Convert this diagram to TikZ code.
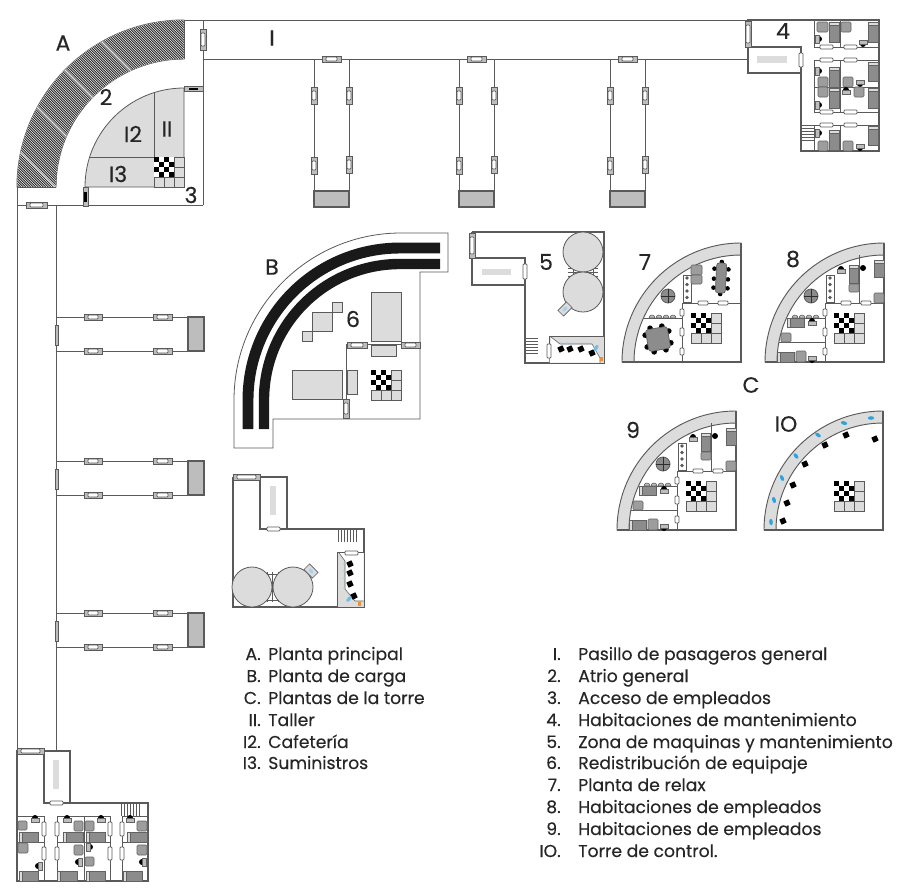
\documentclass[tikz,border=0pt]{standalone}
\usepackage{fontspec}
\setmainfont{Poppins}
\newfontfamily\legendfont{Poppins}[FakeBold=0.3]
\definecolor{wall}{HTML}{5A5A5A}
\definecolor{lite}{HTML}{DCDCDC}
\definecolor{mid}{HTML}{BDBDBD}
\definecolor{furn}{HTML}{8C8C8C}
\definecolor{blu}{HTML}{2FA4DC}
\definecolor{lblu}{HTML}{9CD3EE}
\definecolor{ora}{HTML}{E8913A}
\tikzset{
  wallline/.style={draw=wall,line width=0.75pt},
  roomgray/.style={draw=wall,fill=lite,line width=0.6pt},
  lbl/.style={font=\legendfont\fontsize{16.5}{18}\selectfont,text=black!85,inner sep=0pt},
  item/.style={font=\legendfont\fontsize{12.9}{15}\selectfont,text=black!85,anchor=base west,inner sep=0pt},
  num/.style={font=\legendfont\fontsize{12.9}{15}\selectfont,text=black!85,anchor=base east,inner sep=0pt},
  doorw/.style={draw=wall,fill=white,line width=0.5pt,rounded corners=0.6pt},
  doorg/.style={draw=wall,fill=mid,line width=0.5pt},
  bedf/.style={draw=furn!70!black,fill=furn,line width=0.4pt},
  chairf/.style={draw=furn!70!black,fill=furn!85!white,line width=0.4pt,rounded corners=1pt},
}
\newcommand{\doorh}[3]{\path[doorw] (#1,#3-2) rectangle (#2,#3+2);}
\newcommand{\doorv}[3]{\path[doorw] (#1-2,#2) rectangle (#1+2,#3);}
\newcommand{\sdh}[3]{\path[doorg] (#1,#3-3) rectangle (#2,#3+3);\path[doorw] (#1+4,#3-2) rectangle (#2-4,#3+2);}
\newcommand{\sdv}[3]{\path[doorg] (#1-3,#2) rectangle (#1+3,#3);\path[doorw] (#1-2,#2+4) rectangle (#1+2,#3-4);}
\newcommand{\bedl}[4]{\path[bedf] (#1,#2) rectangle (#3,#4);\path[draw=furn!70!black,fill=lite,line width=0.3pt] (#1,#2) rectangle (#1+3,#4);}
\newcommand{\bedt}[4]{\path[bedf] (#1,#2) rectangle (#3,#4);\path[draw=furn!70!black,fill=lite,line width=0.3pt] (#1,#2) rectangle (#3,#2+3);}
\newcommand{\chairx}[4]{\path[chairf] (#1,#2) rectangle (#3,#4);}
\newcommand{\deskx}[3]{\begin{scope}[shift={(#1,#2)},rotate=#3]
  \fill[black] (0,1) circle (3);
  \path[draw=furn!70!black,fill=mid,line width=0.3pt] (-4,-3) rectangle (4,1);
\end{scope}}
\newcommand{\chk}[2]{\begin{scope}[shift={(#1,#2)}]
  \path[draw=wall,fill=lite,line width=0.5pt] (0,0) rectangle (30,30);
  \draw[wall,line width=0.5pt] (20,0) -- (20,30) (0,20) -- (30,20) (20,10) -- (30,10) (10,20) -- (10,30);
  \fill[white] (0,0) rectangle (20,20);
  \foreach \i/\j in {0/0,10/0,5/5,15/5,0/10,10/10,5/15,15/15} \fill[black] (\i,\j) rectangle +(5,5);
\end{scope}}
\newcommand{\fingerv}[2]{%
  \draw[wallline] (#1,59) -- (#1,191) (#2,59) -- (#2,191);
  \path[draw=wall,fill=mid,line width=0.8pt] (#1,191) rectangle (#2,207);
  \sdh{#1+8}{#2-8}{59}
  \sdv{#1}{87}{104}\sdv{#1}{157}{174}\sdv{#2}{87}{104}\sdv{#2}{156}{173}}
\newcommand{\fingerh}[2]{%
  \draw[wallline] (56,#1) -- (188,#1) (56,#2) -- (188,#2);
  \path[draw=wall,fill=mid,line width=0.8pt] (188,#1) rectangle (204,#2);
  \path[doorg] (55,#1+8) rectangle (58,#2-6);
  \sdh{84}{102}{#1}\sdh{153}{172}{#1}\sdh{84}{102}{#2}\sdh{153}{172}{#2}}
\newcommand{\towerband}{%
  \path[draw=wall,fill=lite,line width=0.7pt] (-119,0) arc (180:270:119) -- (0,-107) arc (270:180:107) -- cycle;
  \draw[wall,line width=0.8pt] (-119,0) -- (0,0) -- (0,-119);}
\newcommand{\towerroom}{%
  \draw[wall,line width=0.7pt] (-59,0) -- (-59,-59) -- (0,-59);
  \doorh{-43}{-33}{-59}\doorh{-23}{-13}{-59}
  \doorv{-59}{-53}{-46}\doorv{-59}{-34}{-26}\doorv{-59}{-14}{-7}
  \chk{-50}{-49}
  \path[draw=wall,fill=white,line width=0.4pt] (-58,-87) rectangle (-50,-60);
  \foreach \k in {-84,-77.5,-71,-64.5}{\fill[wall] (-54,\k) circle (1.8);}
  \path[draw=wall,fill=furn,line width=0.6pt] (-73,-66) circle (7);
  \draw[wall!50!black,line width=0.7pt] (-80,-66) -- (-66,-66) (-73,-73) -- (-73,-59);
  \foreach \k in {-89,-82,-75,-68}{\path[draw=wall,fill=mid,line width=0.4pt] (\k-3,-44) arc (180:360:3) -- cycle;}
}
\newcommand{\towerstaff}{%
  \draw[wall,line width=0.6pt] (-25,-107) -- (-25,-59) (-97,-44) -- (-59,-44) (-105,-20) -- (-59,-20);
  \deskx{-43}{-92}{180}
  \bedt{-35}{-97}{-26}{-79}\chairx{-35}{-78}{-25}{-70}
  \fill[black] (-21,-94) circle (3);
  \bedt{-10}{-102}{0}{-85}\chairx{-10}{-69}{0}{-59}
  \bedl{-97}{-44}{-80}{-35}\deskx{-72}{-40}{180}
  \chairx{-103}{-29}{-93}{-20}
  \bedl{-107}{-10}{-90}{0}\chairx{-88}{-11}{-78}{0}\deskx{-72}{-3}{0}}
\newcommand{\blk}[2]{\fill[black,rotate around={25:(#1,#2)}] (#1-2.8,#2-2.8) rectangle (#1+2.8,#2+2.8);}
\begin{document}
\begin{tikzpicture}[x=0.75pt,y=-0.75pt]
\useasboundingbox[fill=white] (0,0) rectangle (900,893);

%% ---------- Main floor A
\path[draw=wall,line width=0.7pt,fill=black!85] (17,187) arc (180:270:167) -- (184,59) arc (270:180:128) -- cycle;
\begin{scope}
  \clip (17,187) arc (180:270:167) -- (184,59) arc (270:180:128) -- cycle;
  \foreach \d in {-220,-217.5,...,190}{\draw[white,line width=0.32pt] (\d,0) -- ++(220,220);}
  \foreach \d in {-132,-70,-5,60}{\draw[white,line width=1.1pt,opacity=.6] (\d,0) -- ++(220,220);}
\end{scope}
\draw[wallline] (184,20) -- (747,20) (203,20) -- (203,205) (203,59) -- (747,59)
  (184,20) -- (184,59) (17,187) -- (17,750) (56,205) -- (56,750) (17,205) -- (203,205) (17,187) -- (56,187);
\sdv{203}{29}{50}\sdh{26}{47}{205}
% inner rooms
\path[roomgray] (85,187) arc (180:270:99) -- (184,187) -- cycle;
\draw[wall,line width=0.6pt] (154,92) -- (154,187) (90,157) -- (184,157);
\chk{154}{157}
\path[doorg] (184,86) rectangle (203,91);\fill[black] (189,87.5) rectangle (198,89.5);
\path[doorg] (83,187) rectangle (88,206);\fill[black] (84.3,192) rectangle (86.7,202);
\node[lbl] (labA) at (63,43) {A};
\node[lbl] (lab2) at (106,97) {2};
\node[lbl] (lab12) at (133,134) {I2};
\node[lbl] (lab11) at (167,129) {II};
\node[lbl] (lab13) at (118,174) {I3};
\node[lbl] (lab3) at (191,195) {3};
\node[lbl] (lab1) at (272,38) {I};
%% fingers
\fingerv{314}{349}\fingerv{459}{494}\fingerv{610}{645}
\fingerh{317}{351}\fingerh{461}{495}\fingerh{613}{647}

%% ---------- Room 4 (top right)
\draw[wall,line width=0.8pt] (747,20) -- (879,20) -- (879,151) -- (801,151) -- (801,73) -- (748,73) -- (748,47) -- (801,47) -- (801,73);
\draw[wall,line width=0.8pt] (748,47) -- (748,20);
\sdv{748}{21}{47}
\fill[lite] (757,56) rectangle (787,63);
\doorv{801}{53}{67}
\draw[wall,line width=0.7pt] (814,20) -- (814,47) -- (879,47) (814,60) -- (879,60) (814,60) -- (814,112) -- (879,112) (814,125) -- (879,125) (814,125) -- (814,151)
 (840,20) -- (840,47) (840,60) -- (840,112) (840,125) -- (840,151) (814,87) -- (879,87);
\foreach \y in {47,60,112,125}{\doorh{820}{833}{\y}\doorh{844}{857}{\y}}
\foreach \y in {125,128,...,141}{\draw[wall,line width=0.5pt] (801,\y) -- (814,\y);}
\chairx{817}{22}{828}{32}\bedt{829}{22}{839}{42}\chairx{841}{22}{851}{32}\bedt{868}{22}{878}{42}
\deskx{818}{39}{90}\deskx{863}{43}{0}
\deskx{818}{71}{90}\bedt{829}{67}{839}{87}\chairx{818}{77}{828}{87}\chairx{843}{77}{853}{87}\deskx{860}{83}{0}\bedt{868}{62}{878}{81}
\chairx{818}{87}{828}{97}\bedt{829}{88}{839}{108}\deskx{846}{91}{180}\chairx{854}{87}{864}{97}\bedt{868}{88}{878}{108}\deskx{818}{105}{90}
\deskx{818}{133}{90}\bedt{829}{130}{839}{150}\chairx{818}{141}{828}{151}\chairx{843}{141}{853}{151}\deskx{860}{147}{0}\bedt{868}{126}{878}{145}
\node[lbl] (lab4) at (783,31) {4};

%% ---------- Room bottom left
\draw[wall,line width=0.8pt] (17,750) -- (17,881) -- (148,881) -- (148,803) -- (70,803) -- (70,751) -- (44,751) -- (44,803) -- (70,803);
\sdh{17}{44}{751}
\fill[lite] (53,760) rectangle (59,789);
\doorh{50}{63}{803}
\draw[wall,line width=0.7pt] (17,816) -- (44,816) -- (44,881) (57,881) -- (57,816) -- (110,816) -- (110,881) (122,881) -- (122,816) -- (148,816)
 (17,842) -- (44,842) (57,842) -- (110,842) (122,842) -- (148,842) (84,816) -- (84,881);
\foreach \x in {44,57,110,122}{\doorv{\x}{822}{836}\doorv{\x}{847}{860}}
\foreach \x in {121,124,...,139}{\draw[wall,line width=0.5pt] (\x,803) -- (\x,816);}
\deskx{35}{819}{180}\chairx{18}{821}{27}{830}\bedl{19}{832}{38}{842}\chairx{18}{843}{28}{853}\deskx{39}{866}{-90}\bedl{19}{871}{38}{881}
\deskx{67}{819}{180}\chairx{74}{821}{83}{831}\bedl{63}{832}{83}{842}\chairx{74}{845}{83}{855}\deskx{79}{862}{-90}\bedl{57}{871}{77}{881}
\deskx{101}{819}{180}\chairx{85}{821}{94}{831}\bedl{86}{832}{105}{842}\deskx{89}{847}{90}\chairx{85}{857}{94}{866}\bedl{86}{871}{105}{881}
\deskx{130}{819}{180}\chairx{137}{821}{147}{831}\bedl{127}{832}{147}{842}\chairx{137}{845}{147}{855}\deskx{143}{862}{-90}\bedl{123}{871}{142}{881}

%% ---------- Plant B / 6
\draw[wall,line width=0.6pt] (273,419) -- (273,448) -- (234,448) -- (234,400) arc (180:270:167) -- (448,233) -- (448,272) -- (420,272) -- (420,419) -- cycle;
\draw[black!90,line width=8.2pt] (248,429) -- (248,400) arc (180:270:152) -- (440,248);
\draw[black!90,line width=7.8pt] (264,429) -- (264,400) arc (180:270:136) -- (440,264);
\draw[wall,line width=0.7pt] (346,419) -- (346,344) -- (420,344);
\foreach \a/\b/\c/\d in {371/292/401/341,371/345/396/356,292/370/342/399,347/370/357/394,332/302/342/312,312/312/332/331,302/331/312/341}
  {\path[roomgray] (\a,\b) rectangle (\c,\d);}
\sdh{347}{367}{345}\sdh{401}{420}{345}\sdv{346}{399}{418}
\chk{371}{370}
\node[lbl] (labB) at (272,267) {B};
\node[lbl] (lab6) at (353,319) {6};

%% ---------- Machine room 5
\draw[wall,line width=0.8pt] (472,232) -- (604,232) -- (604,363) -- (525,363) -- (525,258) -- (472,258) -- (472,232) (472,258) -- (472,285) -- (525,285);
\sdv{472}{233}{258}
\fill[lite] (482,269) rectangle (511,275);
\doorv{525}{264}{279}
\draw[wall,line width=0.5pt] (568,268) -- (598,268) (568,272) -- (598,272) (568,276) -- (598,276) (573,265) -- (573,279) (593,265) -- (593,279);
\path[roomgray] (583,252) circle (20);
\path[roomgray] (583,292) circle (20);
\begin{scope}[rotate around={45:(565,309)}]
\path[draw=wall,fill=lite,line width=0.5pt] (559,305) rectangle (571,313);
\fill[lblu] (565,309) ellipse (3 and 1.6);
\end{scope}
\foreach \y in {338,341,...,353}{\draw[wall,line width=0.5pt] (525,\y) -- (538,\y);}
\path[draw=wall,fill=lite,line width=0.7pt] (549,336) rectangle (604,363);
\fill[white] (551,337) -- (560,344) -- (592,344) -- (600,358) -- (600,362.5) -- (549.5,362.5) -- cycle;
\draw[wall,line width=0.4pt] (551,337) -- (560,344) -- (592,344) -- (600,358) -- (600,362.5);
\doorv{549}{344}{358}
\foreach \x in {561,567,573,584}{\fill[lblu] (\x,343) circle (0.9);}
\blk{561}{349}\blk{570}{349}\blk{581}{349}\blk{592}{353}
\fill[blu!70!white,rotate around={55:(596,348)}] (596,348) ellipse (3.5 and 1.8);
\fill[ora] (599.5,357) rectangle (603,361);
\node[lbl] (lab5) at (546,262) {5};

%% ---------- Machine room (mirrored, bottom)
\draw[wall,line width=0.8pt] (233,477) -- (233,607) -- (364,607) -- (364,529) -- (287,529) -- (287,477) -- (260,477) -- (260,529) -- (287,529) (233,477) -- (260,477);
\sdh{233}{260}{477}
\fill[lite] (270,486) rectangle (276,515);
\doorh{267}{280}{529}
\draw[wall,line width=0.5pt] (267,572) -- (267,602) (272.5,572) -- (272.5,602) (278,572) -- (278,602) (264,574) -- (281,574) (264,600) -- (281,600);
\path[roomgray] (252,587) circle (20);
\path[roomgray] (293,587) circle (20);
\begin{scope}[rotate around={45:(311,571)}]
\path[draw=wall,fill=lite,line width=0.5pt] (307,565) rectangle (315,577);
\fill[lblu] (311,571) ellipse (1.6 and 3);
\end{scope}
\foreach \x in {338,341,...,356}{\draw[wall,line width=0.5pt] (\x,529) -- (\x,542);}
\path[draw=wall,fill=lite,line width=0.7pt] (337,552) rectangle (364,607);
\fill[white] (339,553) -- (363.5,553) -- (363.5,601) -- (355,601) -- (345,589) -- (345,561) -- cycle;
\draw[wall,line width=0.4pt] (339,553) -- (345,561) -- (345,589) -- (355,601) -- (363.5,601);
\doorh{345}{358}{553}
\foreach \y in {564,571,578,588}{\fill[lblu] (344,\y) circle (0.9);}
\blk{350}{564}\blk{350}{573}\blk{350}{584}\blk{354}{596}
\fill[blu!70!white,rotate around={50:(349,599)}] (349,599) ellipse (3.5 and 1.8);
\fill[ora] (358,602) rectangle (361,606);

%% ---------- Tower plans
\begin{scope}[shift={(741,362)}]
  \towerband\towerroom
  \draw[wall,line width=0.6pt] (-98,-44) -- (-59,-44);
  \chairx{-50}{-97}{-39}{-87}\chairx{-50}{-87}{-39}{-78}
  \begin{scope}[shift={(-83,-23)},rotate=10]
    \foreach \p/\q in {-6/-12,6/-12,-6/12,6/12,-12/-6,-12/6,12/-6,12/6}{\fill[black] (\p,\q) circle (2.8);}
    \path[draw=wall,fill=furn,line width=0.5pt,rounded corners=2pt] (-11,-11) rectangle (11,11);
  \end{scope}
  \begin{scope}[shift={(-20,-84)},rotate=-3]
    \foreach \p/\q in {-7/-9,7/-9,-7/1,7/1,-7/10,7/10,0/-16,0/16}{\fill[black] (\p,\q) circle (2.3);}
    \path[draw=wall,fill=furn,line width=0.5pt,rounded corners=2pt] (-5,-15) rectangle (5,15);
  \end{scope}
\end{scope}
\begin{scope}[shift={(884,362)}]
  \towerband\towerroom\towerstaff
\end{scope}
\begin{scope}[shift={(736,530)}]
  \towerband\towerroom\towerstaff
\end{scope}
\begin{scope}[shift={(883,530)}]
  \towerband
  \chk{-49}{-49}
  \foreach \a/\b/\r in {-12/-112/0,-39/-107/-15,-65/-95/-35,-87/-74/-50,-101/-52/-65,-109/-30/-75,-112/-8/-85}
    {\fill[blu,rotate around={\r:(\a,\b)}] (\a,\b) ellipse (3.2 and 1.8);}
  \foreach \a/\b in {-8/-91,-37/-95,-58/-85,-78/-66,-90/-45,-96/-27,-100/-9}{\blk{\a}{\b}}
\end{scope}
\node[lbl] (lab7) at (645,262) {7};
\node[lbl] (lab8) at (793,259) {8};
\node[lbl] (labC) at (751,385) {C};
\node[lbl] (lab9) at (633,430) {9};
\node[lbl] (lab10) at (786,424) {IO};

%% ---------- Legend
\foreach \n/\t/\y in {A./Planta principal/660,B./Planta de carga/682,C./Plantas de la torre/704,II./Taller/726,I2./Cafetería/748,I3./Suministros/769}{
  \node[num] at (261,\y) {\n};
  \node[item] at (268,\y) {\t};
}
\foreach \n/\t/\y in {I./Pasillo de pasageros general/660,2./Atrio general/682,3./Acceso de empleados/704,4./Habitaciones de mantenimiento/726,5./Zona de maquinas y mantenimiento/748,6./Redistribución de equipaje/769,7./Planta de relax/791,8./Habitaciones de empleados/813,9./Habitaciones de empleados/835,IO./Torre de control./857}{
  \node[num] at (561,\y) {\n};
  \node[item] at (578,\y) {\t};
}
\end{tikzpicture}
\end{document}
